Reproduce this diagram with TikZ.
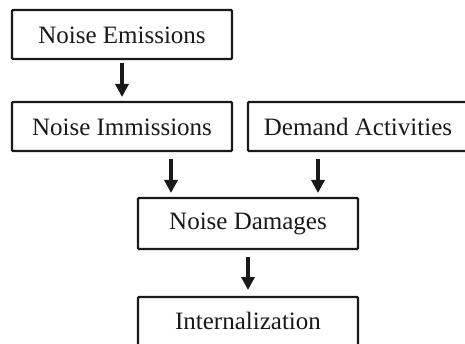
\documentclass[tikz,border=0pt]{standalone}
\usepackage{fontspec}
\setmainfont{Liberation Serif}
\usetikzlibrary{arrows.meta}
\begin{document}
\begin{tikzpicture}[x=1pt,y=-1pt,
  box/.style={draw=black!90, line width=2.3pt, rounded corners=1pt, fill=white},
  lbl/.style={font=\fontsize{25}{28}\selectfont, text=black!90, inner sep=0pt},
  arr/.style={line width=3.6pt, draw=black!90, -{Triangle[width=13pt,length=13pt]}}]
\path[use as bounding box, clip] (0,0) rectangle (465,344);
\fill[white] (0,0) rectangle (465,344);
% boxes
\draw[box] (12,10) rectangle (232,59);
\node[lbl] (e) at (122,35) {Noise Emissions};
\draw[box] (12,102) rectangle (232,151);
\node[lbl] (i) at (122,127) {Noise Immissions};
\draw[box] (248,102) rectangle (475,151);
\node[lbl] (d) at (358,127) {Demand Activities};
\draw[box] (138,198) rectangle (358,249);
\node[lbl] (n) at (248,224) {Noise Damages};
\draw[box] (138,297) rectangle (358,352);
\node[lbl] (t) at (248,321) {Internalization};
% arrow anchors
\coordinate (a1s) at (122,63); \coordinate (a1e) at (122,97);
\coordinate (a2s) at (171,159); \coordinate (a2e) at (171,193);
\coordinate (a3s) at (318,159); \coordinate (a3e) at (318,193);
\coordinate (a4s) at (248,257); \coordinate (a4e) at (248,290);
\draw[arr] (a1s) -- (a1e);
\draw[arr] (a2s) -- (a2e);
\draw[arr] (a3s) -- (a3e);
\draw[arr] (a4s) -- (a4e);
\end{tikzpicture}
\end{document}
